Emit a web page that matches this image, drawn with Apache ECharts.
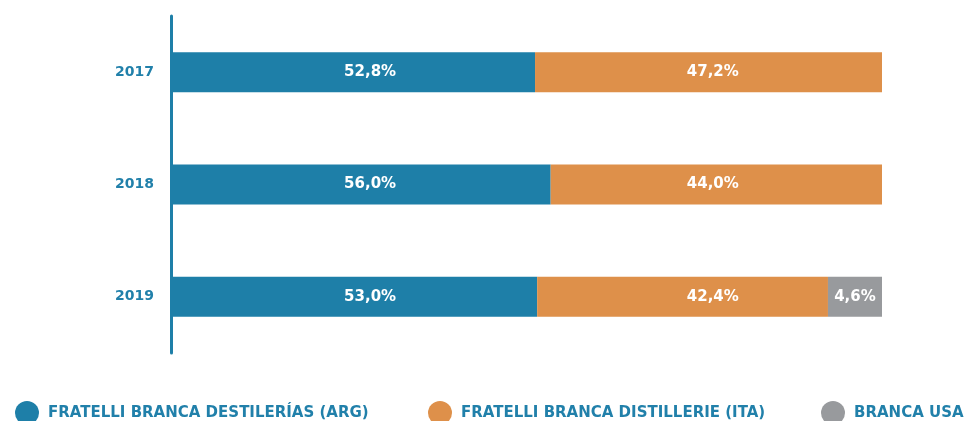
<!DOCTYPE html>
<html>
<head>
<meta charset="utf-8">
<script src="https://cdn.jsdelivr.net/npm/echarts@6/dist/echarts.min.js"></script>
<style>
  html, body { margin: 0; padding: 0; background: #fff; }
  #main { width: 970px; height: 421px; }
</style>
</head>
<body>
<div id="main"></div>
<script>
// datos
var years = ['2017', '2018', '2019'];
var seriesNames = ['FRATELLI BRANCA DESTILERÍAS (ARG)', 'FRATELLI BRANCA DISTILLERIE (ITA)', 'BRANCA USA'];
// largo de cada tramo (en % del ancho de la barra)
var arg = [51.2, 53.4, 51.5];
var ita = [48.8, 46.6, 40.9];
var usa = [0, 0, 7.6];
// textos de las etiquetas
var argLabels = ['52,8%', '56,0%', '53,0%'];
var itaLabels = ['47,2%', '44,0%', '42,4%'];
var usaLabels = ['', '', '4,6%'];

var colors = ['#1e7fa8', '#de904a', '#989a9d'];
var textBlue = '#2180aa';
var font = 'DejaVu Sans';

var myChart = echarts.init(document.getElementById('main'));

function makeLegend(i, left) {
  return {
    data: [seriesNames[i]],
    left: left,
    top: 396,
    icon: 'circle',
    itemWidth: 24,
    itemHeight: 24,
    itemGap: 0,
    selectedMode: false,
    textStyle: { color: textBlue, fontFamily: font, fontWeight: 'bold', fontSize: 15, padding: [0, 0, 2, 4] }
  };
}

function labelStyle(texts) {
  return {
    show: true,
    position: 'inside',
    color: '#fff',
    fontFamily: font,
    fontWeight: 'bold',
    fontSize: 15,
    formatter: function (p) { return texts[p.dataIndex]; }
  };
}

var option = {
  animation: false,
  color: colors,
  grid: { left: 171, right: 88, top: 16, bottom: 68 },
  legend: [makeLegend(0, 10), makeLegend(1, 423), makeLegend(2, 816)],
  xAxis: {
    type: 'value',
    min: 0,
    max: 100,
    show: false
  },
  yAxis: {
    type: 'category',
    data: years,
    inverse: true,
    axisLine: { show: true, lineStyle: { color: colors[0], width: 3 } },
    axisTick: { show: false },
    axisLabel: { color: textBlue, fontFamily: font, fontWeight: 'bold', fontSize: 14, margin: 17 }
  },
  series: [
    { name: seriesNames[0], type: 'bar', stack: 'total', barWidth: 40, data: arg, label: labelStyle(argLabels) },
    { name: seriesNames[1], type: 'bar', stack: 'total', barWidth: 40, data: ita, label: labelStyle(itaLabels) },
    { name: seriesNames[2], type: 'bar', stack: 'total', barWidth: 40, data: usa, label: labelStyle(usaLabels) }
  ]
};
myChart.setOption(option);

// las etiquetas del original van en columnas fijas, no centradas en cada tramo
var columns = [28, 76.2, null];
var stacks = [arg, ita, usa];
var newSeries = stacks.map(function (vals, s) {
  return {
    data: vals.map(function (v, i) {
      if (columns[s] === null) return v;
      var start = 0;
      for (var k = 0; k < s; k++) start += stacks[k][i];
      var mid = myChart.convertToPixel({ xAxisIndex: 0 }, start + v / 2);
      var target = myChart.convertToPixel({ xAxisIndex: 0 }, columns[s]);
      return { value: v, label: { offset: [target - mid, 0] } };
    })
  };
});
myChart.setOption({ series: newSeries });
</script>
</body>
</html>
